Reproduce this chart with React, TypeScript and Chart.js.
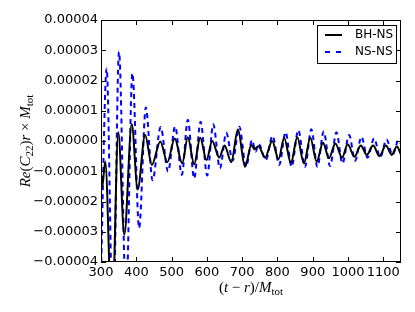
import React, { useEffect, useRef } from "react";
import { Chart, registerables } from "chart.js";

Chart.register(...registerables);

// values in units of 1e-5
const bhnsX = [300, 303, 312, 331, 349, 366, 387, 404, 425, 444, 468, 488, 509, 530, 546, 564, 581, 599, 615, 635, 650, 669, 688, 708, 726, 735, 746, 765, 785, 803, 819, 838, 856, 875, 893, 911, 929, 946, 964, 983, 999, 1018, 1036, 1053, 1071, 1089, 1107, 1124, 1138, 1150];
const bhnsY = [-1.06, -1.55, -0.68, -6.0, 0.29, -3.1, 0.56, -1.6, 0.2, -0.79, -0.02, -0.7, 0.08, -0.74, 0.12, -0.77, 0.11, -0.63, 0.0, -0.55, -0.15, -0.7, 0.38, -0.85, -0.13, -0.27, -0.17, -0.55, 0.0, -0.6, 0.1, -0.73, 0.12, -0.74, 0.11, -0.68, -0.06, -0.57, -0.08, -0.55, -0.11, -0.52, -0.15, -0.46, -0.15, -0.5, -0.15, -0.46, -0.18, -0.45];

const nsnsX = [300, 316, 334, 351, 371, 389, 408, 427, 446, 469, 490, 510, 529, 546, 564, 582, 601, 618, 637, 655, 673, 692, 711, 728, 738, 747, 767, 786, 805, 823, 840, 859, 878, 896, 913, 931, 949, 967, 984, 1003, 1020, 1038, 1055, 1074, 1091, 1109, 1126, 1143, 1150];
const nsnsY = [-4.3, 2.4, -6.25, 2.95, -5.3, 2.24, -2.88, 1.11, -1.3, 0.46, -1.01, 0.48, -1.12, 0.7, -1.24, 0.64, -1.14, 0.55, -0.9, 0.27, -0.65, 0.47, -0.85, 0.03, -0.35, -0.1, -0.63, 0.17, -0.79, 0.29, -0.85, 0.36, -0.85, 0.39, -0.85, 0.31, -0.83, 0.29, -0.74, 0.2, -0.65, 0.14, -0.55, 0.09, -0.54, 0.05, -0.46, 0.03, -0.1];

const UNIT = 1e-5;
const xMin = 300;
const xMax = 1150;
const xStep = 100;
const yMin = -4e-5;
const yMax = 4e-5;
const yStep = 1e-5;

const seriesNames = ["BH-NS", "NS-NS"];

type Seg = { t: string; it?: boolean; sub?: boolean };

const yTitle: Seg[] = [
  { t: "Re", it: true },
  { t: "(" },
  { t: "C", it: true },
  { t: "22", sub: true },
  { t: ")" },
  { t: "r", it: true },
  { t: " × " },
  { t: "M", it: true },
  { t: "tot", sub: true },
];
const xTitle: Seg[] = [
  { t: "(" },
  { t: "t", it: true },
  { t: " − " },
  { t: "r", it: true },
  { t: ")/" },
  { t: "M", it: true },
  { t: "tot", sub: true },
];

const SERIF = '"Liberation Serif", "DejaVu Serif", serif';

function segFont(s: Seg, size: number) {
  const sz = s.sub ? Math.round(size * 0.7) : size;
  return `${s.it ? "italic " : ""}${sz}px ${SERIF}`;
}

function drawRich(ctx: CanvasRenderingContext2D, segs: Seg[], size: number) {
  let w = 0;
  for (const s of segs) {
    ctx.font = segFont(s, size);
    w += ctx.measureText(s.t).width;
  }
  let x = -w / 2;
  ctx.textBaseline = "alphabetic";
  ctx.textAlign = "left";
  for (const s of segs) {
    ctx.font = segFont(s, size);
    ctx.fillText(s.t, x, s.sub ? size * 0.22 : 0);
    x += ctx.measureText(s.t).width;
  }
}

const decorPlugin = {
  id: "decor",
  afterDraw(chart: any) {
    const ctx: CanvasRenderingContext2D = chart.ctx;
    const { left, right, top, bottom } = chart.chartArea;
    const xs = chart.scales.x;
    const ys = chart.scales.y;
    ctx.save();
    ctx.strokeStyle = "#000";
    ctx.lineWidth = 1;
    ctx.strokeRect(Math.round(left) + 0.5, Math.round(top) + 0.5, Math.round(right - left) - 1, Math.round(bottom - top) - 1);
    const TL = 5;
    ctx.beginPath();
    for (const t of xs.ticks) {
      const px = Math.round(xs.getPixelForValue(t.value)) + 0.5;
      ctx.moveTo(px, bottom);
      ctx.lineTo(px, bottom - TL);
      ctx.moveTo(px, top);
      ctx.lineTo(px, top + TL);
    }
    for (const t of ys.ticks) {
      const py = Math.round(ys.getPixelForValue(t.value)) + 0.5;
      ctx.moveTo(left, py);
      ctx.lineTo(left + TL, py);
      ctx.moveTo(right, py);
      ctx.lineTo(right - TL, py);
    }
    ctx.stroke();

    ctx.fillStyle = "#000";
    ctx.save();
    ctx.translate(30, (top + bottom) / 2);
    ctx.rotate(-Math.PI / 2);
    drawRich(ctx, yTitle, 15);
    ctx.restore();
    ctx.save();
    ctx.translate((left + right) / 2, 292);
    drawRich(ctx, xTitle, 15);
    ctx.restore();

    const lx = 317, ly = 25, lw = 79, lh = 38;
    ctx.fillStyle = "#fff";
    ctx.fillRect(lx, ly, lw, lh);
    ctx.strokeStyle = "#000";
    ctx.lineWidth = 1;
    ctx.strokeRect(lx + 0.5, ly + 0.5, lw, lh);
    const rows = [
      { y: 35, color: "#000", dash: [] as number[] },
      { y: 52, color: "#0000ff", dash: [5, 6] },
    ];
    ctx.font = '12px "DejaVu Sans", sans-serif';
    ctx.textBaseline = "middle";
    ctx.textAlign = "left";
    rows.forEach((r, i) => {
      ctx.beginPath();
      ctx.strokeStyle = r.color;
      ctx.lineWidth = 2;
      ctx.setLineDash(r.dash);
      ctx.moveTo(325, r.y);
      ctx.lineTo(342, r.y);
      ctx.stroke();
      ctx.setLineDash([]);
      ctx.fillStyle = "#000";
      ctx.fillText(seriesNames[i], 355, r.y);
    });
    ctx.restore();
  },
};

export default function App() {
  const ref = useRef<HTMLCanvasElement | null>(null);
  useEffect(() => {
    if (!ref.current) return;
    const chart = new Chart(ref.current, {
      type: "line",
      data: {
        datasets: [
          {
            label: seriesNames[0],
            data: bhnsX.map((x, i) => ({ x, y: bhnsY[i] * UNIT })),
            borderColor: "#000",
            borderWidth: 2,
            pointRadius: 0,
            cubicInterpolationMode: "monotone",
            fill: false,
          },
          {
            label: seriesNames[1],
            data: nsnsX.map((x, i) => ({ x, y: nsnsY[i] * UNIT })),
            borderColor: "#0000ff",
            borderWidth: 2,
            borderDash: [5, 4],
            pointRadius: 0,
            cubicInterpolationMode: "monotone",
            fill: false,
          },
        ],
      },
      options: {
        animation: false,
        responsive: false,
        devicePixelRatio: 1,
        layout: { padding: { left: 0, right: 14, top: 20, bottom: 0 } },
        plugins: { legend: { display: false }, tooltip: { enabled: false } },
        scales: {
          x: {
            type: "linear",
            min: xMin,
            max: xMax,
            grid: { display: false, drawTicks: false },
            border: { display: false },
            ticks: {
              stepSize: xStep,
              includeBounds: false,
              maxRotation: 0,
              autoSkip: false,
              padding: 3,
              color: "#000",
              font: { family: '"DejaVu Sans", sans-serif', size: 13 },
              callback: (v: any) => String(Math.round(Number(v))),
            },
            afterFit: (s: any) => {
              s.height = 50;
            },
          },
          y: {
            type: "linear",
            min: yMin,
            max: yMax,
            grid: { display: false, drawTicks: false },
            border: { display: false },
            ticks: {
              stepSize: yStep,
              includeBounds: false,
              autoSkip: false,
              padding: 3,
              color: "#000",
              font: { family: '"DejaVu Sans", sans-serif', size: 13 },
              callback: (v: any) => {
                const n = Math.round(Number(v) / UNIT);
                return (n < 0 ? "−" : "") + (Math.abs(n) * UNIT).toFixed(5);
              },
            },
            afterFit: (s: any) => {
              s.width = 101;
            },
          },
        },
      },
      plugins: [decorPlugin],
    });
    return () => chart.destroy();
  }, []);
  return (
    <div style={{ position: "absolute", left: 0, top: 0, width: 415, height: 312, background: "#fff" }}>
      <canvas ref={ref} width={415} height={312} />
    </div>
  );
}
